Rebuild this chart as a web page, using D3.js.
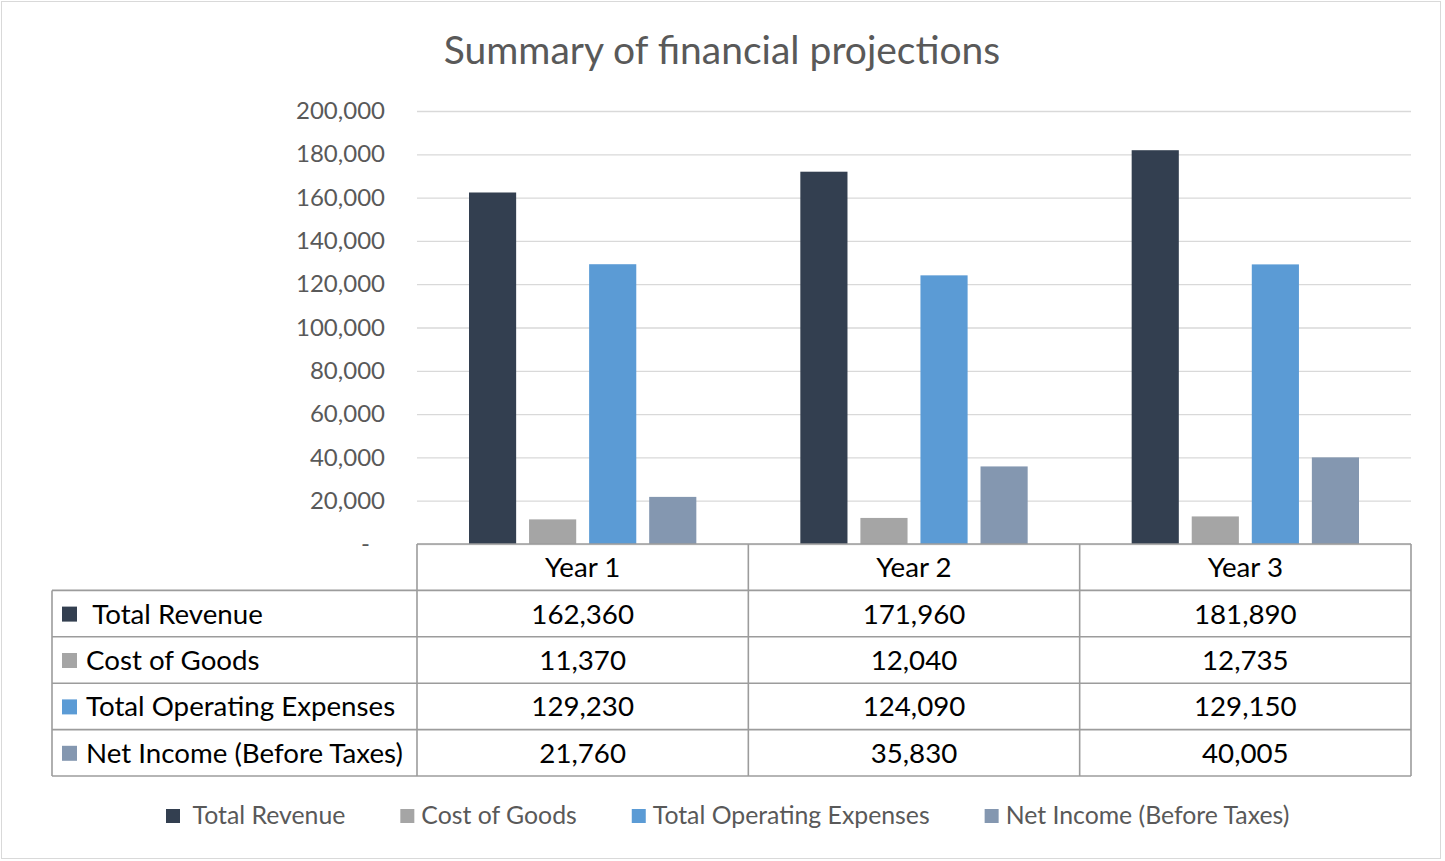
<!DOCTYPE html>
<html>
<head>
<meta charset="utf-8">
<script src="https://cdn.jsdelivr.net/npm/d3@7"></script>
<style>
  body { margin: 0; background: #fff; }
  svg { display: block; font-family: Lato, "Open Sans", sans-serif; }
  text { white-space: pre; }
</style>
</head>
<body>
<div id="chart_div"></div>
<script>
//----------------------------DATA-------------------------------//
const years = ["Year 1", "Year 2", "Year 3"];
const seriesNames = [" Total Revenue", "Cost of Goods", "Total Operating Expenses", "Net Income (Before Taxes)"];
const totalRevenue = [162360, 171960, 181890];
const costOfGoods = [11370, 12040, 12735];
const operatingExpenses = [129230, 124090, 129150];
const netIncome = [21760, 35830, 40005];
const yTicks = [0, 20000, 40000, 60000, 80000, 100000, 120000, 140000, 160000, 180000, 200000];

const seriesValues = [totalRevenue, costOfGoods, operatingExpenses, netIncome];
const colors = ["#333f50", "#a5a5a5", "#5b9bd5", "#8497b0"];

//----------------------------SVG--------------------------------//
const W = 1445, H = 861;
const plot = { left: 417, right: 1411, top: 111, bottom: 544 };
const rowH = 46.4;
const labelLeft = 52;

const svg = d3.select("#chart_div").append("svg")
  .attr("width", W)
  .attr("height", H);

svg.append("rect")
  .attr("x", 1.5).attr("y", 1.5)
  .attr("width", W - 6).attr("height", H - 4)
  .attr("fill", "#fff")
  .attr("stroke", "#d9d9d9");

svg.append("text")
  .attr("x", 722).attr("y", 64)
  .attr("text-anchor", "middle")
  .attr("font-size", 39)
  .attr("fill", "#595959")
  .text("Summary of financial projections");

//---------------------------SCALES------------------------------//
const x0 = d3.scaleBand().domain(years).range([plot.left, plot.right]);
const x1 = d3.scaleBand().domain(d3.range(seriesNames.length))
  .range([52, x0.bandwidth() - 52]).paddingInner(0.215);
const y = d3.scaleLinear().domain([0, 200000]).range([plot.bottom, plot.top]);

//----------------------------AXES-------------------------------//
const yaxis = d3.axisLeft(y)
  .tickValues(yTicks)
  .tickFormat(v => v === 0 ? "-" : d3.format(",")(v))
  .tickSize(-(plot.right - plot.left))
  .tickPadding(32);

const gy = svg.append("g")
  .attr("transform", "translate(" + plot.left + ",0)")
  .call(yaxis);
gy.select(".domain").remove();
gy.selectAll(".tick line").attr("stroke", "#d9d9d9").attr("stroke-width", 1.3);
gy.selectAll(".tick text")
  .attr("font-family", "Lato, sans-serif")
  .attr("font-size", 24)
  .attr("fill", "#595959");
gy.selectAll(".tick").filter(d => d === 0).select("text").attr("dx", -15);

//----------------------------BARS-------------------------------//
const groups = svg.append("g").selectAll("g")
  .data(years)
  .join("g")
  .attr("transform", d => "translate(" + x0(d) + ",0)");

groups.selectAll("rect")
  .data((d, i) => seriesValues.map((vals, s) => ({ s, v: vals[i] })))
  .join("rect")
  .attr("x", d => x1(d.s))
  .attr("width", x1.bandwidth())
  .attr("y", d => y(d.v))
  .attr("height", d => y(0) - y(d.v))
  .attr("fill", d => colors[d.s]);

//----------------------------TABLE------------------------------//
const table = svg.append("g").attr("stroke", "#9c9c9c").attr("stroke-width", 1.6).attr("fill", "none");
const tTop = plot.bottom;
const tBottom = tTop + rowH * (seriesNames.length + 1);

// horizontal lines
table.append("line").attr("x1", plot.left).attr("x2", plot.right).attr("y1", tTop).attr("y2", tTop);
d3.range(1, seriesNames.length + 2).forEach(r => {
  table.append("line")
    .attr("x1", labelLeft).attr("x2", plot.right)
    .attr("y1", tTop + r * rowH).attr("y2", tTop + r * rowH);
});
// vertical lines
table.append("line").attr("x1", labelLeft).attr("x2", labelLeft).attr("y1", tTop + rowH).attr("y2", tBottom);
years.forEach(yr => {
  table.append("line").attr("x1", x0(yr)).attr("x2", x0(yr)).attr("y1", tTop).attr("y2", tBottom);
});
table.append("line").attr("x1", plot.right).attr("x2", plot.right).attr("y1", tTop).attr("y2", tBottom);

const cellText = svg.append("g").attr("font-size", 27.7).attr("fill", "#000");

years.forEach((yr, i) => {
  cellText.append("text")
    .attr("x", x0(yr) + x0.bandwidth() / 2)
    .attr("y", tTop + rowH / 2 + 10)
    .attr("text-anchor", "middle")
    .text(yr);
  seriesValues.forEach((vals, s) => {
    cellText.append("text")
      .attr("x", x0(yr) + x0.bandwidth() / 2)
      .attr("y", tTop + (s + 1) * rowH + rowH / 2 + 10)
      .attr("text-anchor", "middle")
      .text(d3.format(",")(vals[i]));
  });
});

seriesNames.forEach((name, s) => {
  const cy = tTop + (s + 1) * rowH + rowH / 2;
  svg.append("rect")
    .attr("x", 62).attr("y", cy - 7)
    .attr("width", 15).attr("height", 15)
    .attr("fill", colors[s]);
  cellText.append("text")
    .attr("x", 86).attr("y", cy + 10)
    .text(name);
});

//---------------------------LEGEND------------------------------//
const legend = svg.append("g").attr("font-size", 24.8).attr("fill", "#595959");
const legendY = 816;
let lx = 166;
seriesNames.forEach((name, s) => {
  legend.append("rect")
    .attr("x", lx).attr("y", legendY - 7)
    .attr("width", 14).attr("height", 14)
    .attr("fill", colors[s]);
  const t = legend.append("text")
    .attr("x", lx + 21).attr("y", legendY + 8)
    .text(name);
  lx += 21 + t.node().getComputedTextLength() + 55;
});
</script>
</body>
</html>
